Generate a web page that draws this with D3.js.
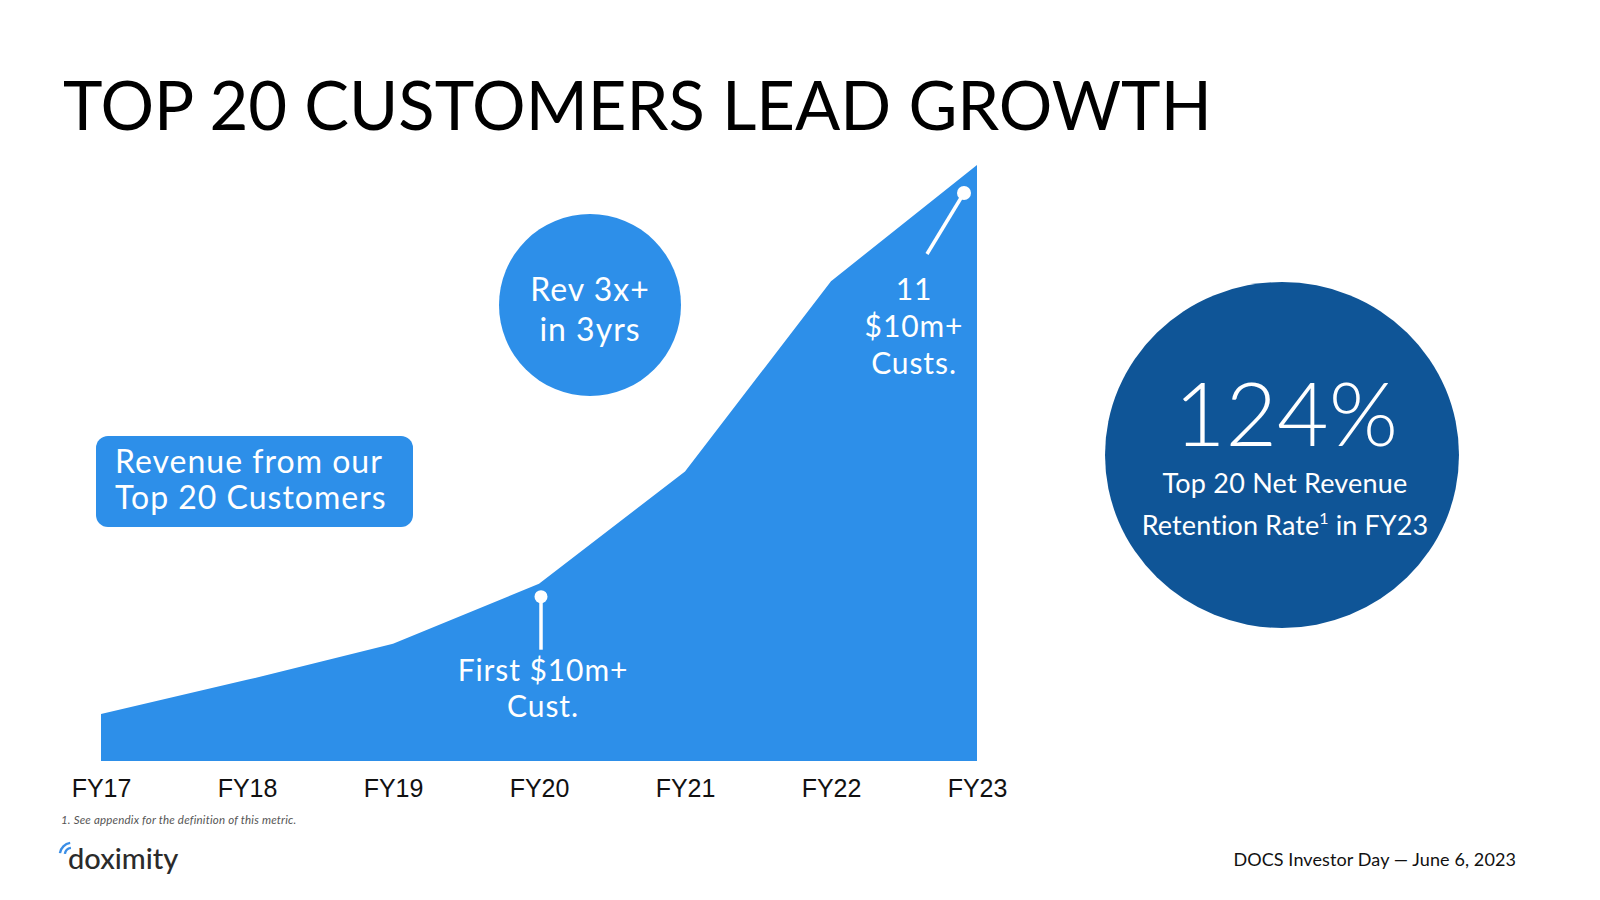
<!DOCTYPE html>
<html>
<head>
<meta charset="utf-8">
<script src="https://cdn.jsdelivr.net/npm/d3@7"></script>
<style>
  html, body { margin: 0; padding: 0; background: #ffffff; }
  svg { display: block; }
</style>
</head>
<body>
<svg id="chart" width="1600" height="900"></svg>
<script>
// ---- Data ----
const categories = ["FY17", "FY18", "FY19", "FY20", "FY21", "FY22", "FY23"];
const revenueIndex = [47, 81, 117, 177, 289, 479, 595]; // relative revenue of top 20 customers
const titleText = "TOP 20 CUSTOMERS LEAD GROWTH";
const legendLines = ["Revenue from our", "Top 20 Customers"];
const bubbleLines = ["Rev 3x+", "in 3yrs"];
const firstCustLines = ["First $10m+", "Cust."];
const elevenCustLines = ["11", "$10m+", "Custs."];
const nrrValue = "124%";
const nrrLines = ["Top 20 Net Revenue", "Retention Rate", "1", " in FY23"];
const footnote = "1. See appendix for the definition of this metric.";
const footer = "DOCS Investor Day \u2014 June 6, 2023";
const logoText = "doximity";

const data = categories.map((c, i) => ({ cat: c, value: revenueIndex[i] }));

const AREA = "#2D8FE9";
const DARK = "#0F5597";
const SANS = "Lato, 'Open Sans', sans-serif";

const svg = d3.select("#chart");

const x = d3.scalePoint().domain(categories).range([101, 977]);
const y = d3.scaleLinear().domain([0, d3.max(revenueIndex)]).range([761, 165]);

// Title
const title = svg.append("text")
  .attr("x", 63).attr("y", 130)
  .attr("font-family", SANS).attr("font-size", 70).attr("font-weight", 400)
  .attr("fill", "#000").text(titleText);
{
  const w = title.node().getComputedTextLength();
  title.attr("font-size", 70 * 1149 / w);
}

// Area
const area = d3.area().x(d => x(d.cat)).y0(y(0)).y1(d => y(d.value));
svg.append("path").datum(data).attr("d", area).attr("fill", AREA);

// X axis (labels only)
const xAxis = d3.axisBottom(x).tickSize(0).tickPadding(0);
const gx = svg.append("g").attr("transform", `translate(0, ${y(0) + 18})`).call(xAxis);
gx.select(".domain").remove();
gx.selectAll("text")
  .attr("font-family", "'Liberation Sans', Arial, sans-serif")
  .attr("font-size", 25).attr("fill", "#111").attr("dy", "0.71em");

// Legend box
svg.append("rect").attr("x", 96).attr("y", 436).attr("width", 317).attr("height", 91)
  .attr("rx", 12).attr("fill", AREA);
svg.append("g").selectAll("text").data(legendLines).join("text")
  .attr("x", 115).attr("y", (d, i) => 473 + i * 36)
  .attr("font-family", SANS).attr("font-size", 32).attr("letter-spacing", 1.0)
  .attr("fill", "#fff").text(d => d);

// Bubble "Rev 3x+ in 3yrs"
svg.append("circle").attr("cx", 590).attr("cy", 305).attr("r", 91).attr("fill", AREA);
svg.append("g").selectAll("text").data(bubbleLines).join("text")
  .attr("x", 590).attr("y", (d, i) => 301 + i * 40).attr("text-anchor", "middle")
  .attr("font-family", SANS).attr("font-size", 32).attr("letter-spacing", 1.0)
  .attr("fill", "#fff").text(d => d);

// Annotation: first $10m+ customer (FY20)
const fx = x("FY20") + 2, fy = y(revenueIndex[3]) + 13;
svg.append("line").attr("x1", fx).attr("y1", fy).attr("x2", fx).attr("y2", fy + 53)
  .attr("stroke", "#fff").attr("stroke-width", 3.5);
svg.append("circle").attr("cx", fx).attr("cy", fy).attr("r", 6.5).attr("fill", "#fff");
svg.append("g").selectAll("text").data(firstCustLines).join("text")
  .attr("x", fx + 2).attr("y", (d, i) => 681 + i * 36).attr("text-anchor", "middle")
  .attr("font-family", SANS).attr("font-size", 30).attr("letter-spacing", 0.9)
  .attr("fill", "#fff").text(d => d);

// Annotation: 11 $10m+ customers (FY23)
const ex = x("FY23") - 13, ey = y(revenueIndex[6]) + 28;
svg.append("line").attr("x1", ex).attr("y1", ey).attr("x2", ex - 37).attr("y2", ey + 61)
  .attr("stroke", "#fff").attr("stroke-width", 3.5);
svg.append("circle").attr("cx", ex).attr("cy", ey).attr("r", 7).attr("fill", "#fff");
svg.append("g").selectAll("text").data(elevenCustLines).join("text")
  .attr("x", 914).attr("y", (d, i) => 300 + i * 37).attr("text-anchor", "middle")
  .attr("font-family", SANS).attr("font-size", 30).attr("letter-spacing", 0.9)
  .attr("fill", "#fff").text(d => d);

// Big NRR circle
const cxN = 1284;
svg.append("ellipse").attr("cx", 1282).attr("cy", 455).attr("rx", 177).attr("ry", 173).attr("fill", DARK);
svg.append("text").attr("x", cxN + 2).attr("y", 446).attr("text-anchor", "middle")
  .attr("font-family", SANS).attr("font-size", 89).attr("font-weight", 300)
  .attr("fill", "#fff").text(nrrValue);
svg.append("text").attr("x", cxN + 1).attr("y", 493).attr("text-anchor", "middle")
  .attr("font-family", SANS).attr("font-size", 27).attr("letter-spacing", 0.2)
  .attr("fill", "#fff").text(nrrLines[0]);
const l2 = svg.append("text").attr("x", cxN + 1).attr("y", 535).attr("text-anchor", "middle")
  .attr("font-family", SANS).attr("font-size", 27).attr("letter-spacing", 0.1)
  .attr("fill", "#fff");
l2.append("tspan").text(nrrLines[1]);
l2.append("tspan").attr("font-size", 16).attr("dy", -11).text(nrrLines[2]);
l2.append("tspan").attr("dy", 11).text(nrrLines[3]);

// Footnote
svg.append("text").attr("x", 61).attr("y", 824)
  .attr("font-family", SANS).attr("font-size", 11.5).attr("font-style", "italic")
  .attr("letter-spacing", 0.2).attr("fill", "#555").text(footnote);

// Logo
const logo = svg.append("g");
logo.append("text").attr("x", 68).attr("y", 869)
  .attr("font-family", SANS).attr("font-size", 29).attr("font-weight", 500)
  .attr("fill", "#2b2b2b").text(logoText);
const arc = d3.arc();
[6, 11].forEach(r => {
  logo.append("path")
    .attr("transform", "translate(72, 855)")
    .attr("d", arc({ innerRadius: r, outerRadius: r + 2.4, startAngle: -Math.PI / 2 + 0.15, endAngle: -0.15 }))
    .attr("fill", "#3A8EE6");
});

// Footer
svg.append("text").attr("x", 1516).attr("y", 866).attr("text-anchor", "end")
  .attr("font-family", SANS).attr("font-size", 18).attr("letter-spacing", 0.1)
  .attr("fill", "#111").text(footer);
</script>
</body>
</html>
